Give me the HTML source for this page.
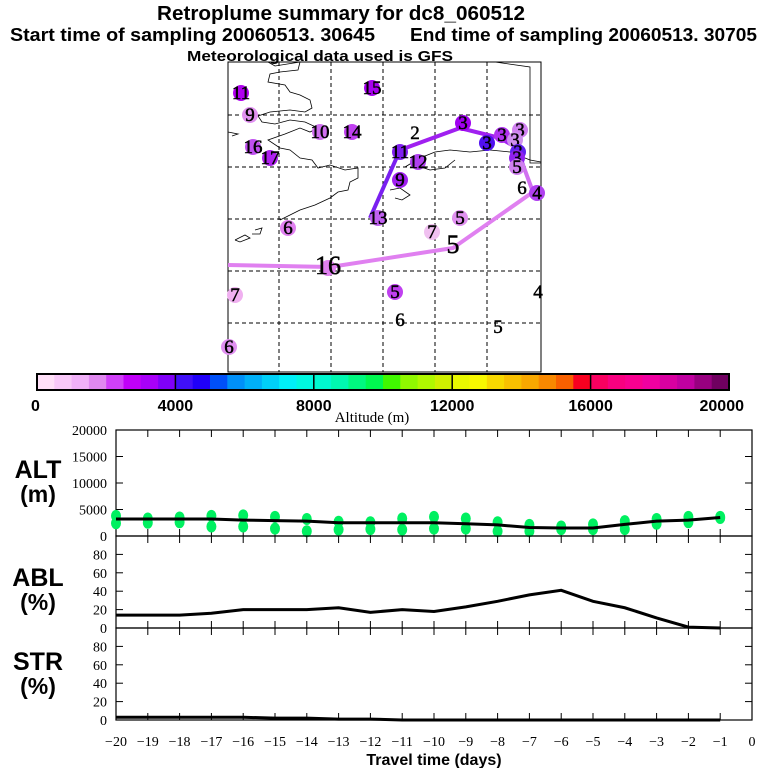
<!DOCTYPE html>
<html><head><meta charset="utf-8"><style>
html,body{margin:0;padding:0;background:#fff;}
svg{display:block;}
.t{font-family:"Liberation Sans",sans-serif;font-weight:bold;fill:#000;}
.s{font-family:"Liberation Serif",serif;fill:#000;}
</style></head><body>
<svg id="svg" width="768" height="768" viewBox="0 0 768 768" xmlns="http://www.w3.org/2000/svg">
<text class="t" x="341" y="20" font-size="20" text-anchor="middle" textLength="368" lengthAdjust="spacingAndGlyphs">Retroplume summary for dc8_060512</text>
<text class="t" x="10" y="41" font-size="18" textLength="365" lengthAdjust="spacingAndGlyphs">Start time of sampling 20060513. 30645</text>
<text class="t" x="410" y="41" font-size="18" textLength="347" lengthAdjust="spacingAndGlyphs">End time of sampling 20060513. 30705</text>
<text class="t" x="320" y="61" font-size="15" text-anchor="middle" textLength="266" lengthAdjust="spacingAndGlyphs">Meteorological data used is GFS</text>

<g id="map">
<rect x="228" y="62" width="313" height="310" fill="none" stroke="#000" stroke-width="1"/>
<g stroke="#000" stroke-width="1" stroke-dasharray="4,3">
<line x1="279" y1="62" x2="279" y2="372"/><line x1="331" y1="62" x2="331" y2="372"/><line x1="383" y1="62" x2="383" y2="372"/><line x1="435" y1="62" x2="435" y2="372"/><line x1="487" y1="62" x2="487" y2="372"/>
<line x1="228" y1="115" x2="541" y2="115"/><line x1="228" y1="167" x2="541" y2="167"/><line x1="228" y1="219" x2="541" y2="219"/><line x1="228" y1="271" x2="541" y2="271"/><line x1="228" y1="323" x2="541" y2="323"/>
</g>
<g fill="none" stroke="#000" stroke-width="0.8">
<polyline points="300,62 298,70 280,72 270,74 268,82 285,85 290,92 300,95 310,100 312,108 305,112 290,110 270,112 258,116 262,122 275,124 290,120 305,122 318,128 310,132 300,128 285,134 268,140 280,148 290,150 300,158 312,160 318,168 330,165 345,170 358,168 358,178 350,182 348,190 338,192 330,198 315,205 300,210 290,215 280,220"/>
<polyline points="390,190 400,188 410,195 402,200 395,198"/>
<polyline points="405,167 420,158 435,152 450,150 470,152 490,150 510,152 530,160 541,162"/>
<polyline points="415,165 430,170 445,168 455,160"/>
<polyline points="235,240 245,235 250,238 240,242 235,240"/>
<polyline points="255,230 262,228 260,234 252,234"/>
<polyline points="228,132 238,134 232,136"/>
<polyline points="268,62 275,66 300,62"/>
<polyline points="495,62 530,67 530,163 541,163"/>
</g>
</g>
<g id="cbar"></g>
<text class="s" x="372" y="422" font-size="15" text-anchor="middle">Altitude (m)</text>
<g id="panels"></g>
<text class="t" x="434" y="765" font-size="16" text-anchor="middle">Travel time (days)</text>
</svg>
<script>
// ---- Data ----
const days = [-20,-19,-18,-17,-16,-15,-14,-13,-12,-11,-10,-9,-8,-7,-6,-5,-4,-3,-2,-1];
const altMean = [3200,3200,3200,3200,3000,2900,2800,2500,2500,2500,2500,2300,2100,1600,1500,1500,2200,2800,3000,3500];
const altUpper = [3800,3300,3500,3800,3900,3600,3200,2700,2600,3300,3600,3300,2600,2100,1800,2200,2800,3200,3600,3600];
const altLower = [2400,2500,2600,1800,1800,1400,900,1200,1300,1200,1400,1400,900,900,1300,1300,1300,2300,2600,3400];
const ablPct = [14,14,14,16,20,20,20,22,17,20,18,23,29,36,41,29,22,11,1,0];
const strPct = [3,3,3,3,3,2,2,1,1,0,0,0,0,0,0,0,0,0,0,0];
const xTicks = [-20,-19,-18,-17,-16,-15,-14,-13,-12,-11,-10,-9,-8,-7,-6,-5,-4,-3,-2,-1,0];
const altTicks = [0,5000,10000,15000,20000];
const pctTicks = [0,20,40,60,80];
const cbarTicks = [0,4000,8000,12000,16000,20000];
const cbarColors = ["#ffe0f8","#f8c8f8","#f0b0f8","#e088f0","#d040f8","#c000f8","#a800f8","#8000f8",
"#4010f8","#2000f8","#0050f8","#0090f8","#00b0f8","#00d0f8","#00f0f8","#00f8e0",
"#00f8d0","#00f8b0","#00f880","#00f850","#40f800","#90f800","#b0f800","#d0f000",
"#e8f800","#f8f800","#f8d800","#f8c000","#f8a800","#f88800","#f86000","#f80020",
"#f80060","#f80080","#f80090","#f000a0","#d800a0","#c000a0","#980080","#700060"];
const mapLabels = ["11","15","9","10","14","16","17","2","11","12","9","13","6","7","5","5","16","7","5","6","5","4","6","3","3","3","3","3","3","3","5","4","6"];
const mapLX = [241,372,250,320,352,253,270,415,400,418,400,378,288,432,460,453,328,235,395,400,498,538,229,463,487,502,520,515,518,517,517,537,522];
const mapLY = [93,88,115,132,132,147,158,133,152,162,180,218,228,232,218,247,268,295,292,320,327,292,347,123,143,135,130,140,152,158,167,193,188];
const mapDot = ["#b000f0","#a800f0","#e090f0","#d070f0","#c040f0","#c050f0","#b020f0",null,"#8020f0","#b040f0","#a020f0","#c060f0","#e080f0","#f0c0f0","#e090f0",null,"#e080f0","#f0b0f0","#c040f0",null,null,null,"#e090f0","#a000f0","#5010f0","#b030f0","#d080f0","#d090f0","#6020f0","#9020f0","#d080f0","#b040f0",null];
const trajX = [[370,400],[400,460,500,517,523],[523,533],[533,453,330,228]];
const trajY = [[218,150],[150,128,138,148,165],[165,192],[192,248,267,265]];
const trajC = ["#7a20f0","#a020f0","#d070f0","#e080f0"];

const NS="http://www.w3.org/2000/svg";
const svg=document.getElementById('svg');
function mk(tag,attrs,parent){const e=document.createElementNS(NS,tag);for(const k in attrs)e.setAttribute(k,attrs[k]);(parent||svg).appendChild(e);return e;}

// map
const mapG=document.getElementById('map');
for(let i=0;i<trajX.length;i++){
  const pl=mk('polyline',{points:trajX[i].map((x,j)=>x+','+trajY[i][j]).join(' '),fill:'none',stroke:trajC[i],'stroke-width':4,'stroke-linejoin':'round'},mapG);
  
  
}
for(let i=0;i<mapLabels.length;i++){
  if(mapDot[i]){const c=mk('circle',{cx:mapLX[i],cy:mapLY[i],r:8,fill:mapDot[i]},mapG);
    
    }
  const big=(i===15)||(i===16);
  const t=mk('text',{x:mapLX[i],y:mapLY[i]+6,'font-size':big?26:19,'text-anchor':'middle',class:'s',stroke:'#000','stroke-width':0.5},mapG);
  t.textContent=mapLabels[i];
  
  
}

// colorbar
const cb=document.getElementById('cbar');
const cbX0=37,cbX1=729,cbY=374,cbH=16;
const cbx=v=>cbX0+(v/20000)*(cbX1-cbX0);
const cw=(cbX1-cbX0)/cbarColors.length;
cbarColors.forEach((c,i)=>{const r=mk('rect',{x:cbX0+i*cw,y:cbY,width:cw+0.5,height:cbH,fill:c},cb);
  
  });
mk('rect',{x:cbX0,y:cbY,width:cbX1-cbX0,height:cbH,fill:'none',stroke:'#000','stroke-width':2},cb);
cbarTicks.forEach((v,i)=>{
  if(i>0&&i<cbarTicks.length-1)mk('line',{x1:cbx(v),x2:cbx(v),y1:cbY,y2:cbY+cbH,stroke:'#000','stroke-width':1.5},cb);
  const t=mk('text',{x:i===0?cbx(v)-6:(i===cbarTicks.length-1?cbx(v)+15:cbx(v)),y:411,'font-size':16,class:'t','text-anchor':i===0?'start':(i===cbarTicks.length-1?'end':'middle')},cb);
  t.textContent=v;
  
  
});

// panels
const PX0=116,PX1=752;
const xs=d=>PX0+(d+20)/20*(PX1-PX0);
const pg=document.getElementById('panels');
function panel(name,top,bot,maxV,ticks,label1,label2,labY){
  const g=mk('g',{},pg);
  
  
  const ys=v=>bot-(v/maxV)*(bot-top);
  mk('rect',{x:PX0,y:top,width:PX1-PX0,height:bot-top,fill:'none',stroke:'#000','stroke-width':1.2},g);
  xTicks.forEach(d=>{
    mk('line',{x1:xs(d),x2:xs(d),y1:top,y2:top+7,stroke:'#000'},g);
    mk('line',{x1:xs(d),x2:xs(d),y1:bot,y2:bot-7,stroke:'#000'},g);
  });
  ticks.forEach(v=>{
    mk('line',{x1:PX0,x2:PX0+7,y1:ys(v),y2:ys(v),stroke:'#000'},g);
    mk('line',{x1:PX1,x2:PX1-7,y1:ys(v),y2:ys(v),stroke:'#000'},g);
    const t=mk('text',{x:107,y:ys(v)+5,'font-size':14,'text-anchor':'end',class:'s'},g);
    t.textContent=v;
    
    
  });
  const l1=mk('text',{x:38,y:labY,'font-size':25,'text-anchor':'middle',class:'t'},g);l1.textContent=label1;
  
  
  const l2=mk('text',{x:38,y:labY+24,'font-size':23,'text-anchor':'middle',class:'t'},g);l2.textContent=label2;
  
  
  return {g,ys};
}
const alt=panel('alt',430,536,20000,altTicks,'ALT','(m)',478);
days.forEach((d,i)=>{
  [altUpper[i],altLower[i]].forEach(v=>{
    const e=mk('ellipse',{cx:xs(d),cy:alt.ys(v),rx:5,ry:6,fill:'#00f060'},alt.g);
    
    
  });
});
const altLine=mk('polyline',{points:days.map((d,i)=>xs(d)+','+alt.ys(altMean[i])).join(' '),fill:'none',stroke:'#000','stroke-width':3},alt.g);



const abl=panel('abl',536,628,100,pctTicks,'ABL','(%)',586);
const ablLine=mk('polyline',{points:days.map((d,i)=>xs(d)+','+abl.ys(ablPct[i])).join(' '),fill:'none',stroke:'#000','stroke-width':3},abl.g);



const str=panel('str',628,720,100,pctTicks,'STR','(%)',670);
const strLine=mk('polyline',{points:days.map((d,i)=>xs(d)+','+str.ys(strPct[i])).join(' '),fill:'none',stroke:'#000','stroke-width':3},str.g);



xTicks.forEach(d=>{
  const t=mk('text',{x:xs(d),y:746,'font-size':14,'text-anchor':'middle',class:'s'},pg);
  t.textContent=d===0?'0':'\u2212'+Math.abs(d);
  
  
});
</script>
</body></html>
